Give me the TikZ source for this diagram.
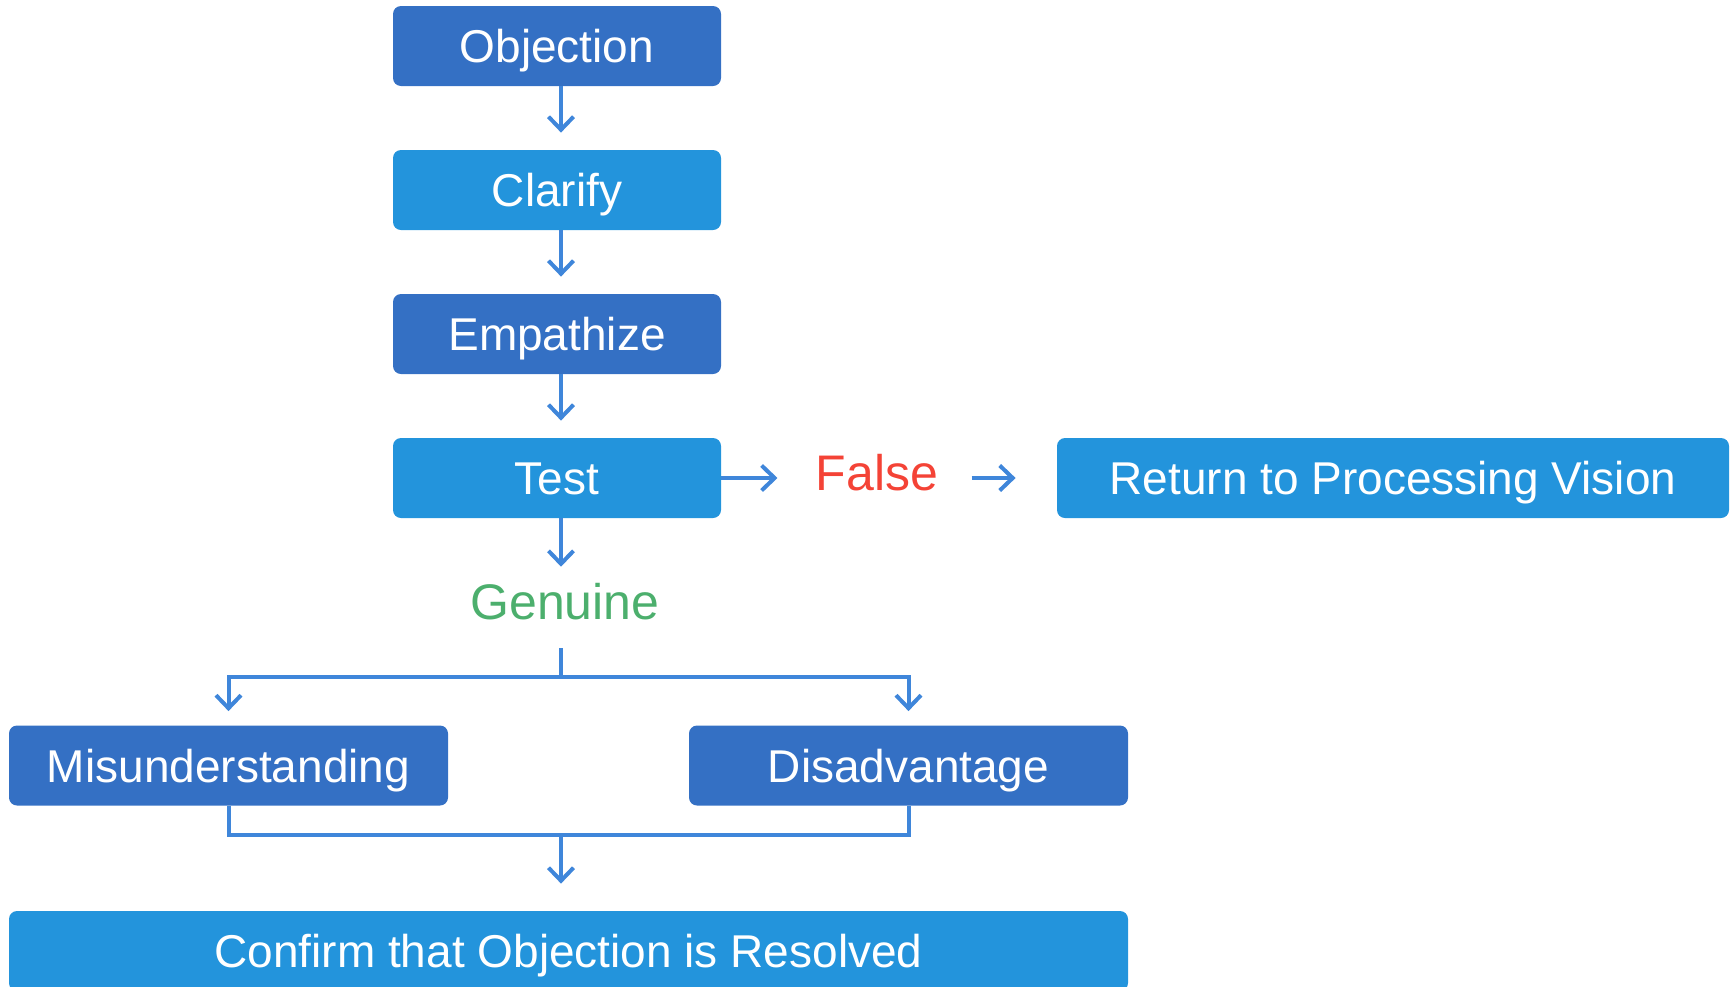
\documentclass[tikz,border=0pt]{standalone}
\usepackage{fontspec}
\setmainfont{Liberation Sans}
\usetikzlibrary{arrows.meta}
\definecolor{boxdark}{HTML}{3470C4}
\definecolor{boxlight}{HTML}{2394DC}
\definecolor{arrowblue}{HTML}{3F86DA}
\definecolor{falsered}{HTML}{F44336}
\definecolor{genuinegreen}{HTML}{4CAF6D}

\begin{document}
\begin{tikzpicture}[x=0.5pt,y=-0.5pt,
        box/.style={rounded corners=4pt, text=white, inner sep=0pt, minimum height=40pt,
            font=\fontsize{23}{28}\selectfont, text height=16.5pt, text depth=0pt},
        darkbox/.style={box, fill=boxdark},
        lightbox/.style={box, fill=boxlight},
        word/.style={inner sep=0pt, font=\fontsize{25}{30}\selectfont, text height=17.9pt, text depth=0pt},
        link/.style={draw=arrowblue, line width=2pt},
        arr/.style={link, -{Straight Barb[length=6.5pt,width=12.5pt]}, shorten >=8.5pt}]
        \useasboundingbox (0,0) rectangle (1732,986);
        \clip (0,0) rectangle (1732,986);
        \foreach \Name/\Y/\Style/\Text in {obj/46/darkbox/Objection, cla/190/lightbox/Clarify, emp/334/darkbox/Empathize, tst/478/lightbox/Test}
        \node[\Style, minimum width=164pt] (\Name) at (557,\Y) {\Text};
        \foreach \From/\To in {obj/cla, cla/emp, emp/tst}
        \draw[arr] ([xshift=2pt]\From.south) -- ([xshift=2pt]\To.north);
        \node[word, text=falsered] (fls) at (877,473) {False};
        \node[lightbox, minimum width=336pt] (ret) at (1393,478) {Return to Processing Vision};
        \draw[arr, shorten >=19pt] (tst.east) -- (tst.east -| fls.west);
        \draw[arr, shorten <=16.5pt, shorten >=20.5pt] (fls.east |- ret.west) -- (ret.west);
        \node[word, text=genuinegreen] (gen) at (565,602) {Genuine};
        \coordinate (split) at (561,677);
        \coordinate (merge) at (561,835);
        \draw[arr] (tst.south -| split) -- (gen.north -| split);
        \node[darkbox, minimum width=219.5pt] (mis) at (228.5,765.5) {Misunderstanding};
        \node[darkbox, minimum width=219.5pt] (dis) at (908.5,765.5) {Disadvantage};
        \draw[link, shorten <=14pt] (gen.south -| split) -- (split);
        \draw[arr, shorten >=7pt] (split) -| (mis.north);
        \draw[arr, shorten >=7pt] (split) -| (dis.north);
        \draw[link] (mis.south) |- (merge) -| (dis.south);
        \node[lightbox, minimum width=559.5pt] (conf) at (568.5,951) {Confirm that Objection is Resolved};
        \draw[arr, shorten >=13.5pt] (merge) -- (merge |- conf.north);
\end{tikzpicture}
\end{document}
